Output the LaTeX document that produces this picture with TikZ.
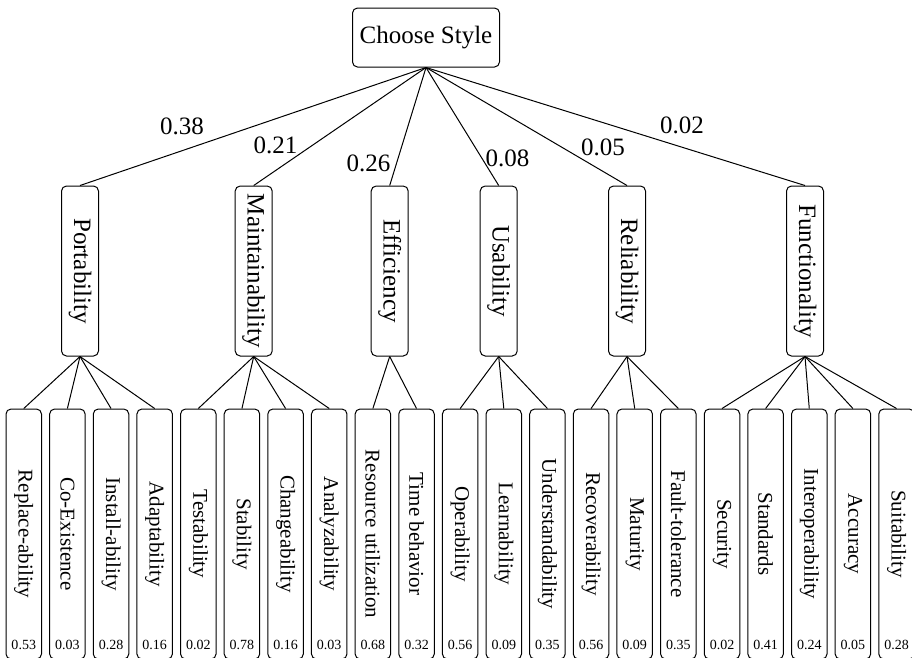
\documentclass[tikz,border=0pt]{standalone}
\usepackage{fontspec}
\setmainfont{Liberation Serif}
\begin{document}
\begin{tikzpicture}[x=1pt,y=-1pt,line width=1pt,
  rootbox/.style={draw,rounded corners=5pt,minimum width=147pt,minimum height=59pt,inner sep=0pt,font=\fontsize{25}{30}\selectfont},
  midbox/.style={draw,rounded corners=5pt,rotate=-90,minimum width=170pt,minimum height=37pt,inner sep=0pt,font=\fontsize{25}{30}\selectfont},
  leafbox/.style={draw,rounded corners=5pt,rotate=-90,minimum width=250pt,minimum height=35.5pt,inner sep=0pt,font=\fontsize{21}{25}\selectfont},
  numlab/.style={inner sep=0pt,font=\fontsize{14}{16}\selectfont},
  wlab/.style={inner sep=0pt,font=\fontsize{25}{30}\selectfont},
  conn/.style={draw,line width=1pt}]
\path[use as bounding box] (0,0) rectangle (912,657);
\clip (0,0) rectangle (912,657);

\node[rootbox] (root) at (426,37.5) {Choose Style};

\node[midbox] (m1) at (80,271) {Portability};
\node[midbox] (m2) at (253.7,271) {Maintainability};
\node[midbox] (m3) at (389.7,271) {Efficiency};
\node[midbox] (m4) at (498.7,271) {Usability};
\node[midbox] (m5) at (627,271) {Reliability};
\node[midbox] (m6) at (805,271) {Functionality};

\foreach \m in {1,...,6} {\path[conn] (root.south) -- (m\m.west);}

\node[wlab] (w1) at (182,126) {0.38};
\node[wlab] (w2) at (275.5,145) {0.21};
\node[wlab] (w3) at (368.5,163) {0.26};
\node[wlab] (w4) at (507.5,158) {0.08};
\node[wlab] (w5) at (603,147) {0.05};
\node[wlab] (w6) at (682,125) {0.02};

\foreach \i/\t/\v in {0/Replace-ability/0.53, 1/Co-Existence/0.03, 2/Install-ability/0.28, 3/Adaptability/0.16,
  4/Testability/0.02, 5/Stability/0.78, 6/Changeability/0.16, 7/Analyzability/0.03,
  8/Resource utilization/0.68, 9/Time behavior/0.32,
  10/Operability/0.56, 11/Learnability/0.09, 12/Understandability/0.35,
  13/Recoverability/0.56, 14/Maturity/0.09, 15/Fault-tolerance/0.35,
  16/Security/0.02, 17/Standards/0.41, 18/Interoperability/0.24, 19/Accuracy/0.05, 20/Suitability/0.28} {
  \node[leafbox] (l\i) at ({23.75+43.64*\i},534) {\t};
  \node[numlab] (n\i) at ({23.75+43.64*\i},645) {\v};
}

\foreach \i in {0,1,2,3} {\path[conn] (m1.east) -- (l\i.west);}
\foreach \i in {4,5,6,7} {\path[conn] (m2.east) -- (l\i.west);}
\foreach \i in {8,9} {\path[conn] (m3.east) -- (l\i.west);}
\foreach \i in {10,11,12} {\path[conn] (m4.east) -- (l\i.west);}
\foreach \i in {13,14,15} {\path[conn] (m5.east) -- (l\i.west);}
\foreach \i in {16,...,20} {\path[conn] (m6.east) -- (l\i.west);}
\end{tikzpicture}
\end{document}
